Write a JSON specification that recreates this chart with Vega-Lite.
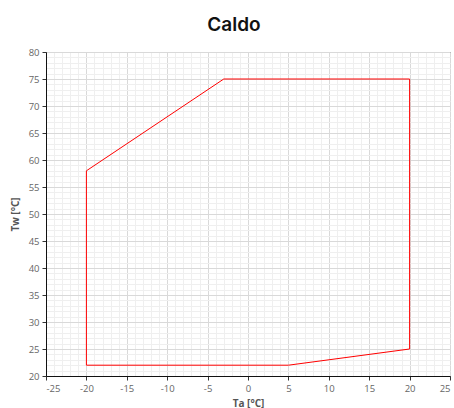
{
  "$schema": "https://vega.github.io/schema/vega-lite/v6.json",
  "width": 404,
  "height": 324,
  "autosize": {"type": "none"},
  "padding": {"left": 46, "top": 52, "right": 4, "bottom": 32},
  "title": {"text": "Caldo", "fontSize": 19, "font": "Inter", "fontWeight": 600, "color": "#111111", "anchor": "middle", "dx": -14, "offset": 12},
  "config": {
    "view": {"stroke": "#222222", "strokeWidth": 1},
    "axis": {"labelFont": "Open Sans", "labelFontSize": 9.5, "labelColor": "#666666", "titleFont": "Open Sans", "titleFontSize": 10, "titleColor": "#555555", "titleFontWeight": "bold"}
  },
  "data": {"values": [
    {"ta": -20, "tw": 22, "o": 1},
    {"ta": 5, "tw": 22, "o": 2},
    {"ta": 20, "tw": 25, "o": 3},
    {"ta": 20, "tw": 75, "o": 4},
    {"ta": -3, "tw": 75, "o": 5},
    {"ta": -20, "tw": 58, "o": 6},
    {"ta": -20, "tw": 22, "o": 7}
  ]},
  "layer": [
    {
      "mark": {"type": "line", "opacity": 0},
      "encoding": {
        "x": {"field": "ta", "type": "quantitative", "scale": {"domain": [-25, 25], "nice": false, "zero": false},
          "axis": {"orient": "bottom", "values": [-24,-23,-22,-21,-19,-18,-17,-16,-14,-13,-12,-11,-9,-8,-7,-6,-4,-3,-2,-1,1,2,3,4,6,7,8,9,11,12,13,14,16,17,18,19,21,22,23,24], "grid": true, "gridColor": "#efefef", "gridWidth": 1, "labels": false, "ticks": false, "domain": false, "title": null}},
        "y": {"field": "tw", "type": "quantitative", "scale": {"domain": [20, 80], "nice": false, "zero": false},
          "axis": {"orient": "left", "values": [21,22,23,24,26,27,28,29,31,32,33,34,36,37,38,39,41,42,43,44,46,47,48,49,51,52,53,54,56,57,58,59,61,62,63,64,66,67,68,69,71,72,73,74,76,77,78,79], "grid": true, "gridColor": "#efefef", "gridWidth": 1, "labels": false, "ticks": false, "domain": false, "title": null}},
        "order": {"field": "o"}
      }
    },
    {
      "mark": {"type": "line", "color": "#ff0000", "strokeWidth": 1},
      "encoding": {
        "x": {"field": "ta", "type": "quantitative", "scale": {"domain": [-25, 25], "nice": false, "zero": false},
          "axis": {"orient": "bottom", "values": [-25,-20,-15,-10,-5,0,5,10,15,20,25], "labelExpr": "toString(datum.value)", "grid": true, "gridColor": "#d9d9d9", "domainColor": "#111111", "tickColor": "#333333", "tickSize": 4, "labelPadding": 3, "title": "Ta [°C]", "titlePadding": 6}},
        "y": {"field": "tw", "type": "quantitative", "scale": {"domain": [20, 80], "nice": false, "zero": false},
          "axis": {"orient": "left", "values": [20,25,30,35,40,45,50,55,60,65,70,75,80], "grid": true, "gridColor": "#d9d9d9", "domainColor": "#111111", "tickColor": "#333333", "tickSize": 4, "labelPadding": 3, "title": "Tw [°C]", "titlePadding": 8}},
        "order": {"field": "o"}
      }
    }
  ],
  "resolve": {"axis": {"x": "independent", "y": "independent"}}
}
